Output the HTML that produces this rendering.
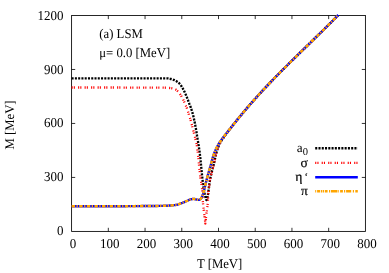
<!DOCTYPE html>
<html><head><meta charset="utf-8"><style>
html,body{margin:0;padding:0;background:#fff;}
svg{display:block;will-change:transform;text-rendering:geometricPrecision;font-family:"Liberation Serif",serif;font-size:12.75px;fill:#000;}
</style></head><body>
<svg width="389" height="273" viewBox="0 0 389 273">
<rect width="389" height="273" fill="#fff"/>
<g fill="none">
<rect x="71.6" y="15.5" width="293.80" height="215.90" stroke="#000" stroke-width="0.85"/>
<path d="M108.32 231.4 v-3.6 M108.32 15.5 v3.6 M145.05 231.4 v-3.6 M145.05 15.5 v3.6 M181.77 231.4 v-3.6 M181.77 15.5 v3.6 M218.50 231.4 v-3.6 M218.50 15.5 v3.6 M255.22 231.4 v-3.6 M255.22 15.5 v3.6 M291.95 231.4 v-3.6 M291.95 15.5 v3.6 M328.67 231.4 v-3.6 M328.67 15.5 v3.6 M71.6 177.43 h3.6 M365.4 177.43 h-3.6 M71.6 123.45 h3.6 M365.4 123.45 h-3.6 M71.6 69.47 h3.6 M365.4 69.47 h-3.6" stroke="#000" stroke-width="0.8"/>
</g>
<g fill="none" stroke-linejoin="round">
<polyline points="71.60,78.40 72.53,78.40 73.46,78.40 74.39,78.40 75.32,78.40 76.24,78.40 77.17,78.40 78.10,78.40 79.03,78.40 79.96,78.40 80.89,78.40 81.82,78.40 82.75,78.40 83.67,78.40 84.60,78.40 85.53,78.40 86.46,78.40 87.39,78.40 88.32,78.40 89.25,78.40 90.18,78.40 91.10,78.40 92.03,78.40 92.96,78.40 93.89,78.40 94.82,78.40 95.75,78.40 96.68,78.40 97.61,78.40 98.53,78.40 99.46,78.40 100.39,78.40 101.32,78.40 102.25,78.40 103.18,78.40 104.11,78.40 105.04,78.40 105.96,78.40 106.89,78.40 107.82,78.40 108.75,78.40 109.68,78.40 110.61,78.40 111.54,78.40 112.47,78.40 113.39,78.40 114.32,78.40 115.25,78.40 116.18,78.40 117.11,78.40 118.04,78.40 118.97,78.40 119.90,78.40 120.82,78.40 121.75,78.40 122.68,78.40 123.61,78.40 124.54,78.40 125.47,78.40 126.40,78.40 127.33,78.40 128.25,78.40 129.18,78.40 130.11,78.40 131.04,78.40 131.97,78.40 132.90,78.40 133.83,78.40 134.76,78.40 135.68,78.40 136.61,78.40 137.54,78.40 138.47,78.40 139.40,78.40 140.33,78.40 141.26,78.40 142.19,78.40 143.11,78.40 144.04,78.40 144.97,78.40 145.90,78.40 146.83,78.40 147.76,78.40 148.69,78.40 149.62,78.40 150.54,78.40 151.47,78.40 152.40,78.40 153.33,78.40 154.26,78.40 155.19,78.40 156.12,78.40 157.05,78.40 157.97,78.40 158.90,78.40 159.83,78.40 160.76,78.40 161.69,78.40 162.62,78.40 163.56,78.40 164.49,78.40 165.41,78.40 166.34,78.40 167.26,78.40 168.19,78.45 169.11,78.58 170.03,78.78 170.94,79.00 171.83,79.23 172.72,79.50 173.60,79.82 174.47,80.18 175.31,80.58 176.12,81.01 176.91,81.48 177.69,82.02 178.43,82.61 179.14,83.23 179.78,83.88 180.36,84.57 180.91,85.31 181.42,86.10 181.90,86.91 182.37,87.73 182.83,88.53 183.27,89.35 183.70,90.18 184.11,91.01 184.50,91.85 184.90,92.69 185.28,93.54 185.66,94.39 186.04,95.24 186.40,96.09 186.76,96.95 187.10,97.81 187.44,98.68 187.77,99.54 188.09,100.42 188.41,101.29 188.73,102.16 189.05,103.03 189.38,103.90 189.73,104.76 190.08,105.62 190.43,106.49 190.75,107.36 191.05,108.23 191.34,109.11 191.62,110.00 191.90,110.89 192.16,111.78 192.42,112.67 192.67,113.57 192.91,114.47 193.14,115.37 193.37,116.27 193.58,117.17 193.79,118.07 194.00,118.98 194.20,119.88 194.39,120.79 194.58,121.70 194.76,122.61 194.94,123.53 195.12,124.44 195.29,125.35 195.46,126.27 195.63,127.18 195.80,128.09 195.96,129.01 196.11,129.92 196.26,130.84 196.41,131.76 196.56,132.67 196.70,133.59 196.84,134.51 196.99,135.43 197.13,136.34 197.28,137.26 197.43,138.18 197.58,139.09 197.73,140.01 197.89,140.93 198.04,141.84 198.19,142.76 198.34,143.68 198.49,144.59 198.64,145.51 198.78,146.43 198.92,147.34 199.06,148.26 199.20,149.18 199.33,150.10 199.46,151.02 199.59,151.94 199.71,152.86 199.82,153.78 199.93,154.70 200.04,155.63 200.15,156.55 200.25,157.47 200.35,158.39 200.45,159.32 200.55,160.24 200.65,161.17 200.74,162.09 200.83,163.01 200.92,163.94 201.02,164.86 201.11,165.79 201.20,166.71 201.29,167.64 201.38,168.56 201.47,169.49 201.56,170.41 201.65,171.33 201.74,172.26 201.83,173.18 201.93,174.11 202.02,175.03 202.12,175.95 202.22,176.88 202.32,177.80 202.43,178.72 202.53,179.65 202.63,180.57 202.73,181.50 202.84,182.42 202.95,183.34 203.06,184.26 203.18,185.18 203.31,186.10 203.45,187.02 203.59,187.94 203.74,188.86 203.89,189.78 204.05,190.70 204.21,191.62 204.39,192.54 204.57,193.45 204.77,194.36 204.98,195.27 205.20,196.17 205.43,197.06 205.68,197.94 206.00,199.00 206.39,199.97 206.71,200.12 207.00,199.35 207.26,198.19 207.47,197.19 207.65,196.28 207.81,195.37 207.96,194.45 208.10,193.53 208.24,192.61 208.38,191.69 208.50,190.77 208.63,189.85 208.75,188.93 208.86,188.01 208.98,187.09 209.11,186.17 209.24,185.25 209.37,184.33 209.49,183.41 209.63,182.49 209.76,181.57 209.90,180.65 210.05,179.73 210.21,178.82 210.39,177.91 210.58,177.00 210.77,176.10 210.98,175.19 211.20,174.29 211.42,173.39 211.65,172.49 211.89,171.59 212.13,170.69 212.37,169.79 212.60,168.89 212.84,167.99 213.08,167.09 213.31,166.19 213.53,165.29 213.75,164.38 213.96,163.48 214.16,162.57 214.37,161.66 214.57,160.75 214.76,159.84 214.96,158.93 215.16,158.02 215.36,157.11 215.57,156.20 215.78,155.30 215.99,154.39 216.22,153.49 216.45,152.60 216.70,151.71 216.95,150.82 217.22,149.94 217.51,149.06 217.81,148.18 218.14,147.30 218.48,146.43 218.84,145.57 219.22,144.72 219.61,143.88 220.02,143.06 220.47,142.26 220.95,141.47 221.45,140.68 221.97,139.91 222.50,139.14 223.04,138.38 223.58,137.62 224.12,136.86 224.65,136.10 225.19,135.34 225.73,134.59 226.28,133.84 226.84,133.09 227.40,132.35 227.96,131.61 228.52,130.87 229.08,130.13 229.65,129.39 230.21,128.65 230.78,127.92 231.35,127.19 231.92,126.45 232.49,125.72 233.07,124.99 233.65,124.27 234.23,123.54 234.81,122.81 235.39,122.09 235.97,121.37 236.55,120.64 237.14,119.92 237.72,119.20 238.31,118.48 238.89,117.76 239.48,117.04 240.07,116.32 240.67,115.61 241.26,114.89 241.85,114.18 242.45,113.46 243.04,112.75 243.64,112.04 244.24,111.33 244.84,110.62 245.44,109.91 246.04,109.21 246.65,108.50 247.25,107.80 247.86,107.09 248.46,106.39 249.07,105.69 249.68,104.99 250.29,104.29 250.90,103.59 251.52,102.89 252.13,102.19 252.74,101.50 253.36,100.80 253.98,100.11 254.60,99.41 255.21,98.72 255.84,98.03 256.46,97.34 257.08,96.65 257.70,95.96 258.33,95.28 258.95,94.59 259.58,93.90 260.21,93.22 260.84,92.54 261.47,91.85 262.10,91.17 262.73,90.49 263.36,89.81 263.99,89.13 264.63,88.45 265.26,87.77 265.90,87.10 266.54,86.42 267.17,85.75 267.81,85.07 268.45,84.40 269.09,83.73 269.74,83.06 270.38,82.39 271.02,81.71 271.66,81.05 272.31,80.38 272.95,79.71 273.60,79.04 274.25,78.38 274.90,77.71 275.54,77.05 276.19,76.38 276.84,75.72 277.49,75.05 278.15,74.39 278.80,73.73 279.45,73.07 280.10,72.41 280.76,71.75 281.41,71.09 282.07,70.43 282.72,69.78 283.38,69.12 284.04,68.46 284.69,67.81 285.35,67.15 286.01,66.49 286.67,65.84 287.33,65.19 287.99,64.53 288.65,63.88 289.31,63.23 289.97,62.57 290.63,61.92 291.29,61.27 291.95,60.62 292.62,59.97 293.28,59.32 293.94,58.67 294.61,58.02 295.27,57.37 295.93,56.72 296.60,56.07 297.26,55.42 297.93,54.77 298.59,54.12 299.26,53.48 299.92,52.83 300.59,52.18 301.26,51.53 301.92,50.89 302.59,50.24 303.25,49.59 303.92,48.94 304.59,48.30 305.25,47.65 305.92,47.00 306.59,46.36 307.25,45.71 307.92,45.06 308.59,44.42 309.25,43.77 309.92,43.12 310.58,42.48 311.25,41.83 311.92,41.18 312.58,40.53 313.25,39.89 313.91,39.24 314.58,38.59 315.25,37.94 315.91,37.29 316.58,36.65 317.24,36.00 317.91,35.35 318.57,34.70 319.23,34.05 319.90,33.40 320.56,32.75 321.22,32.10 321.89,31.45 322.55,30.80 323.21,30.15 323.87,29.50 324.53,28.84 325.19,28.19 325.85,27.54 326.51,26.88 327.17,26.23 327.83,25.58 328.49,24.92 329.15,24.26 329.81,23.61 330.46,22.95 331.12,22.30 331.78,21.64 332.43,20.98 333.09,20.32 333.74,19.66 334.39,19.00 335.05,18.34 335.70,17.68 336.35,17.02 337.00,16.35 337.65,15.69 338.30,15.03" stroke="#000" stroke-width="2.35" stroke-dasharray="2.05 1.22"/>
<polyline points="71.60,87.50 72.60,87.50 73.61,87.50 74.61,87.50 75.61,87.50 76.61,87.50 77.62,87.50 78.62,87.50 79.62,87.50 80.63,87.50 81.63,87.50 82.63,87.50 83.63,87.50 84.64,87.50 85.64,87.50 86.64,87.50 87.64,87.50 88.65,87.50 89.65,87.50 90.65,87.50 91.65,87.50 92.66,87.50 93.66,87.50 94.66,87.50 95.66,87.50 96.67,87.50 97.67,87.51 98.67,87.51 99.67,87.51 100.68,87.51 101.68,87.51 102.68,87.51 103.68,87.51 104.69,87.51 105.69,87.51 106.69,87.51 107.69,87.51 108.70,87.51 109.70,87.51 110.70,87.51 111.70,87.51 112.71,87.51 113.71,87.52 114.71,87.52 115.71,87.52 116.72,87.52 117.72,87.52 118.72,87.52 119.72,87.52 120.72,87.52 121.73,87.52 122.73,87.52 123.73,87.53 124.73,87.53 125.74,87.53 126.74,87.53 127.74,87.53 128.74,87.53 129.74,87.53 130.75,87.54 131.75,87.54 132.75,87.54 133.75,87.54 134.75,87.54 135.76,87.54 136.76,87.55 137.76,87.55 138.76,87.55 139.77,87.55 140.77,87.55 141.77,87.56 142.77,87.56 143.77,87.56 144.78,87.56 145.78,87.56 146.78,87.57 147.78,87.57 148.78,87.57 149.79,87.57 150.79,87.58 151.79,87.58 152.79,87.58 153.79,87.58 154.80,87.59 155.80,87.59 156.80,87.59 157.80,87.59 158.80,87.60 159.81,87.60 160.81,87.61 161.81,87.62 162.82,87.64 163.82,87.67 164.83,87.70 165.83,87.74 166.83,87.79 167.83,87.84 168.82,87.90 169.83,87.99 170.86,88.11 171.88,88.28 172.88,88.49 173.84,88.74 174.73,89.01 175.57,89.41 176.39,89.99 177.17,90.68 177.90,91.45 178.59,92.23 179.23,92.98 179.83,93.76 180.40,94.58 180.95,95.44 181.46,96.31 181.96,97.20 182.43,98.09 182.89,98.98 183.33,99.88 183.74,100.79 184.14,101.71 184.53,102.63 184.92,103.56 185.30,104.49 185.69,105.42 186.09,106.34 186.49,107.26 186.87,108.19 187.22,109.12 187.54,110.07 187.84,111.03 188.13,111.99 188.42,112.95 188.71,113.91 189.00,114.87 189.30,115.82 189.59,116.78 189.89,117.74 190.18,118.70 190.47,119.66 190.75,120.62 191.03,121.59 191.30,122.55 191.56,123.52 191.81,124.49 192.05,125.46 192.28,126.44 192.51,127.41 192.74,128.39 192.97,129.36 193.21,130.34 193.46,131.31 193.71,132.28 193.97,133.25 194.23,134.22 194.49,135.18 194.74,136.15 194.99,137.13 195.22,138.10 195.46,139.07 195.69,140.05 195.92,141.03 196.15,142.00 196.37,142.98 196.58,143.97 196.77,144.95 196.94,145.93 197.09,146.92 197.23,147.91 197.35,148.91 197.47,149.91 197.59,150.90 197.71,151.90 197.82,152.89 197.93,153.89 198.04,154.89 198.14,155.88 198.24,156.88 198.34,157.88 198.44,158.88 198.54,159.88 198.63,160.88 198.73,161.87 198.82,162.87 198.92,163.87 199.01,164.87 199.11,165.87 199.21,166.87 199.30,167.86 199.40,168.86 199.51,169.86 199.61,170.86 199.72,171.85 199.83,172.85 199.94,173.84 200.06,174.84 200.18,175.83 200.31,176.82 200.44,177.82 200.57,178.81 200.72,179.80 200.90,180.79 201.09,181.77 201.27,182.76 201.42,183.75 201.56,184.74 201.70,185.73 201.83,186.73 201.94,187.72 202.05,188.72 202.14,189.72 202.21,190.72 202.28,191.72 202.35,192.72 202.41,193.72 202.46,194.72 202.52,195.72 202.57,196.72 202.63,197.72 202.68,198.72 202.75,199.72 202.81,200.72 202.89,201.72 202.97,202.72 203.06,203.72 203.15,204.72 203.26,205.72 203.36,206.71 203.47,207.71 203.58,208.71 203.69,209.70 203.81,210.70 203.93,211.69 204.05,212.69 204.17,213.68 204.30,214.68 204.42,215.67 204.54,216.67 204.66,217.66 204.78,218.66 204.91,219.65 205.03,220.65 205.16,221.71 205.29,222.97 205.41,223.49 205.52,222.80 205.62,221.53 205.72,220.38 205.82,219.38 205.92,218.38 206.01,217.39 206.11,216.39 206.22,215.39 206.34,214.40 206.47,213.40 206.62,212.41 206.77,211.42 206.93,210.43 207.08,209.44 207.21,208.45 207.33,207.45 207.43,206.46 207.53,205.46 207.63,204.46 207.72,203.46 207.80,202.46 207.87,201.46 207.94,200.46 208.00,199.46 208.05,198.46 208.09,197.46 208.12,196.46 208.16,195.45 208.19,194.45 208.23,193.45 208.28,192.45 208.36,191.45 208.46,190.46 208.59,189.46 208.74,188.47 208.90,187.48 209.05,186.49 209.20,185.50 209.34,184.50 209.48,183.51 209.62,182.52 209.77,181.52 209.92,180.53 210.09,179.54 210.26,178.56 210.46,177.58 210.66,176.60 210.88,175.62 211.11,174.65 211.35,173.68 211.60,172.70 211.85,171.73 212.11,170.76 212.36,169.79 212.62,168.82 212.88,167.85 213.13,166.88 213.38,165.91 213.62,164.93 213.85,163.96 214.07,162.98 214.29,162.00 214.51,161.02 214.72,160.03 214.93,159.05 215.15,158.07 215.37,157.09 215.59,156.11 215.82,155.13 216.05,154.16 216.30,153.19 216.55,152.22 216.82,151.26 217.11,150.31 217.41,149.36 217.73,148.41 218.08,147.46 218.44,146.52 218.83,145.59 219.24,144.67 219.67,143.77 220.12,142.89 220.61,142.03 221.13,141.17 221.68,140.33 222.25,139.50 222.83,138.67 223.42,137.85 224.00,137.03 224.57,136.21 225.15,135.39 225.74,134.58 226.33,133.77 226.93,132.97 227.53,132.17 228.14,131.37 228.75,130.57 229.36,129.77 229.97,128.98 230.58,128.18 231.19,127.39 231.81,126.60 232.43,125.81 233.05,125.02 233.67,124.24 234.29,123.46 234.92,122.67 235.55,121.89 236.18,121.11 236.80,120.33 237.44,119.55 238.07,118.77 238.70,118.00 239.34,117.22 239.97,116.45 240.61,115.67 241.25,114.90 241.89,114.13 242.53,113.36 243.18,112.59 243.82,111.82 244.47,111.06 245.12,110.29 245.77,109.53 246.42,108.77 247.07,108.01 247.72,107.25 248.38,106.49 249.03,105.73 249.69,104.97 250.35,104.22 251.01,103.46 251.67,102.71 252.34,101.96 253.00,101.21 253.66,100.46 254.33,99.71 255.00,98.96 255.67,98.22 256.34,97.47 257.01,96.73 257.68,95.98 258.36,95.24 259.03,94.50 259.71,93.76 260.39,93.02 261.07,92.29 261.75,91.55 262.43,90.81 263.11,90.08 263.79,89.35 264.48,88.61 265.16,87.88 265.85,87.15 266.54,86.42 267.22,85.69 267.91,84.97 268.60,84.24 269.30,83.52 269.99,82.79 270.68,82.07 271.38,81.34 272.07,80.62 272.77,79.90 273.47,79.18 274.16,78.46 274.86,77.74 275.56,77.03 276.26,76.31 276.97,75.59 277.67,74.88 278.37,74.16 279.07,73.45 279.78,72.74 280.48,72.03 281.19,71.31 281.90,70.60 282.60,69.89 283.31,69.18 284.02,68.47 284.73,67.77 285.44,67.06 286.15,66.35 286.86,65.65 287.57,64.94 288.29,64.24 289.00,63.53 289.71,62.83 290.43,62.12 291.14,61.42 291.85,60.72 292.57,60.01 293.29,59.31 294.00,58.61 294.72,57.91 295.43,57.21 296.15,56.51 296.87,55.81 297.59,55.11 298.30,54.41 299.02,53.71 299.74,53.01 300.46,52.31 301.18,51.61 301.89,50.91 302.61,50.21 303.33,49.51 304.05,48.82 304.77,48.12 305.49,47.42 306.21,46.72 306.93,46.02 307.65,45.33 308.37,44.63 309.09,43.93 309.81,43.23 310.52,42.53 311.24,41.84 311.96,41.14 312.68,40.44 313.40,39.74 314.12,39.04 314.84,38.34 315.55,37.64 316.27,36.94 316.99,36.24 317.71,35.54 318.42,34.84 319.14,34.14 319.86,33.44 320.57,32.74 321.29,32.04 322.00,31.33 322.72,30.63 323.43,29.93 324.15,29.22 324.86,28.52 325.57,27.82 326.29,27.11 327.00,26.40 327.71,25.70 328.42,24.99 329.13,24.28 329.84,23.58 330.55,22.87 331.26,22.16 331.96,21.45 332.67,20.74 333.38,20.03 334.08,19.31 334.79,18.60 335.49,17.89 336.19,17.17 336.90,16.46 337.60,15.74 338.30,15.03" stroke="#f00" stroke-width="2.3" stroke-dasharray="1.1 1.1 1.1 3.2"/>
<polyline points="71.60,206.30 72.33,206.30 73.06,206.30 73.79,206.30 74.52,206.30 75.25,206.30 75.98,206.30 76.72,206.30 77.45,206.30 78.18,206.30 78.91,206.30 79.64,206.30 80.37,206.30 81.10,206.29 81.83,206.29 82.56,206.29 83.29,206.29 84.02,206.29 84.75,206.29 85.49,206.29 86.22,206.29 86.95,206.29 87.68,206.29 88.41,206.28 89.14,206.28 89.87,206.28 90.60,206.28 91.33,206.28 92.06,206.28 92.79,206.28 93.52,206.27 94.25,206.27 94.99,206.27 95.72,206.27 96.45,206.27 97.18,206.27 97.91,206.26 98.64,206.26 99.37,206.26 100.10,206.26 100.83,206.26 101.56,206.26 102.29,206.25 103.02,206.25 103.75,206.25 104.49,206.25 105.22,206.25 105.95,206.24 106.68,206.24 107.41,206.24 108.14,206.24 108.87,206.24 109.60,206.23 110.33,206.23 111.06,206.23 111.79,206.23 112.52,206.22 113.26,206.22 113.99,206.22 114.72,206.22 115.45,206.21 116.18,206.21 116.91,206.21 117.64,206.21 118.37,206.21 119.10,206.20 119.83,206.20 120.56,206.20 121.29,206.20 122.02,206.19 122.76,206.19 123.49,206.19 124.22,206.18 124.95,206.18 125.68,206.18 126.41,206.17 127.14,206.17 127.87,206.17 128.60,206.16 129.33,206.16 130.06,206.15 130.79,206.15 131.52,206.15 132.26,206.14 132.99,206.14 133.72,206.13 134.45,206.13 135.18,206.12 135.91,206.12 136.64,206.11 137.37,206.11 138.10,206.10 138.83,206.10 139.56,206.09 140.29,206.08 141.02,206.08 141.76,206.07 142.49,206.07 143.22,206.06 143.95,206.05 144.68,206.05 145.41,206.04 146.14,206.04 146.87,206.03 147.60,206.02 148.33,206.02 149.06,206.01 149.79,206.00 150.52,206.00 151.26,205.99 151.99,205.98 152.72,205.97 153.45,205.97 154.18,205.96 154.91,205.95 155.64,205.94 156.37,205.93 157.10,205.93 157.83,205.92 158.57,205.91 159.30,205.89 160.03,205.88 160.76,205.87 161.49,205.86 162.22,205.84 162.95,205.83 163.68,205.81 164.41,205.79 165.14,205.77 165.87,205.75 166.61,205.72 167.34,205.68 168.08,205.65 168.81,205.60 169.54,205.56 170.28,205.51 171.01,205.45 171.74,205.39 172.46,205.33 173.19,205.26 173.91,205.18 174.63,205.10 175.35,205.02 176.06,204.91 176.76,204.76 177.47,204.57 178.17,204.35 178.87,204.11 179.56,203.86 180.26,203.60 180.95,203.35 181.63,203.11 182.32,202.85 182.99,202.58 183.67,202.31 184.35,202.03 185.02,201.74 185.69,201.46 186.37,201.18 187.05,200.90 187.72,200.60 188.39,200.28 189.06,199.97 189.74,199.69 190.42,199.45 191.12,199.28 191.83,199.13 192.56,199.00 193.29,198.92 194.01,198.91 194.72,199.03 195.43,199.24 196.14,199.47 196.85,199.63 197.59,199.77 198.32,199.87 199.01,199.88 199.68,199.61 200.32,199.15 200.87,198.63 201.32,198.10 201.73,197.48 202.08,196.80 202.37,196.14 202.62,195.47 202.84,194.78 203.05,194.08 203.24,193.37 203.42,192.65 203.59,191.93 203.77,191.22 203.95,190.50 204.13,189.80 204.32,189.09 204.50,188.38 204.67,187.67 204.85,186.96 205.02,186.25 205.20,185.54 205.37,184.83 205.54,184.12 205.72,183.41 205.90,182.71 206.08,182.00 206.26,181.29 206.43,180.58 206.61,179.87 206.79,179.16 206.98,178.46 207.17,177.75 207.36,177.04 207.55,176.34 207.75,175.64 207.94,174.93 208.14,174.23 208.34,173.53 208.54,172.82 208.75,172.12 208.95,171.42 209.15,170.72 209.36,170.02 209.56,169.31 209.76,168.61 209.97,167.91 210.17,167.21 210.37,166.50 210.57,165.80 210.77,165.10 210.97,164.39 211.16,163.69 211.35,162.98 211.53,162.27 211.72,161.56 211.90,160.85 212.09,160.14 212.27,159.43 212.46,158.73 212.66,158.02 212.86,157.32 213.07,156.62 213.29,155.93 213.52,155.24 213.76,154.56 214.00,153.87 214.26,153.19 214.53,152.51 214.81,151.83 215.09,151.15 215.38,150.48 215.68,149.80 215.99,149.13 216.31,148.47 216.63,147.81 216.95,147.15 217.29,146.50 217.63,145.86 217.97,145.22 218.32,144.59 218.68,143.96 219.06,143.34 219.45,142.72 219.85,142.11 220.26,141.51 220.68,140.91 221.11,140.31 221.54,139.71 221.97,139.12 222.41,138.53 222.85,137.94 223.29,137.36 223.72,136.77 224.16,136.19 224.60,135.61 225.05,135.03 225.51,134.46 225.96,133.89 226.42,133.32 226.89,132.75 227.35,132.19 227.82,131.62 228.28,131.06 228.74,130.49 229.20,129.92 229.66,129.35 230.12,128.78 230.57,128.21 231.02,127.64 231.48,127.06 231.93,126.49 232.38,125.91 232.83,125.34 233.28,124.76 233.73,124.19 234.18,123.61 234.64,123.04 235.09,122.47 235.55,121.89 236.00,121.32 236.46,120.75 236.92,120.19 237.38,119.62 237.84,119.05 238.30,118.48 238.76,117.92 239.23,117.35 239.69,116.79 240.16,116.22 240.62,115.66 241.09,115.10 241.55,114.54 242.02,113.97 242.49,113.41 242.96,112.85 243.43,112.29 243.90,111.73 244.37,111.18 244.84,110.62 245.32,110.06 245.79,109.50 246.26,108.95 246.74,108.39 247.22,107.84 247.69,107.28 248.17,106.73 248.65,106.18 249.13,105.63 249.60,105.07 250.08,104.52 250.57,103.97 251.05,103.42 251.53,102.87 252.01,102.33 252.50,101.78 252.98,101.23 253.47,100.68 253.95,100.14 254.44,99.59 254.92,99.05 255.41,98.50 255.90,97.96 256.39,97.42 256.88,96.87 257.37,96.33 257.86,95.79 258.35,95.25 258.84,94.71 259.34,94.17 259.83,93.63 260.32,93.09 260.82,92.55 261.31,92.02 261.81,91.48 262.31,90.94 262.80,90.41 263.30,89.87 263.80,89.34 264.30,88.80 264.80,88.27 265.30,87.74 265.80,87.21 266.30,86.67 266.80,86.14 267.30,85.61 267.81,85.08 268.31,84.55 268.81,84.02 269.32,83.49 269.82,82.96 270.33,82.44 270.83,81.91 271.34,81.38 271.85,80.86 272.35,80.33 272.86,79.80 273.37,79.28 273.88,78.75 274.39,78.23 274.90,77.71 275.41,77.18 275.92,76.66 276.43,76.14 276.94,75.62 277.45,75.10 277.97,74.57 278.48,74.05 278.99,73.53 279.51,73.01 280.02,72.49 280.53,71.97 281.05,71.46 281.56,70.94 282.08,70.42 282.60,69.90 283.11,69.38 283.63,68.87 284.15,68.35 284.66,67.83 285.18,67.32 285.70,66.80 286.22,66.29 286.73,65.77 287.25,65.26 287.77,64.74 288.29,64.23 288.81,63.72 289.33,63.20 289.85,62.69 290.37,62.18 290.89,61.66 291.41,61.15 291.93,60.64 292.46,60.13 292.98,59.61 293.50,59.10 294.02,58.59 294.54,58.08 295.07,57.57 295.59,57.06 296.11,56.55 296.63,56.04 297.16,55.53 297.68,55.01 298.20,54.50 298.73,53.99 299.25,53.49 299.77,52.98 300.30,52.47 300.82,51.96 301.35,51.45 301.87,50.94 302.39,50.43 302.92,49.92 303.44,49.41 303.97,48.90 304.49,48.39 305.01,47.88 305.54,47.37 306.06,46.86 306.59,46.36 307.11,45.85 307.64,45.34 308.16,44.83 308.69,44.32 309.21,43.81 309.73,43.30 310.26,42.79 310.78,42.28 311.31,41.77 311.83,41.26 312.36,40.76 312.88,40.25 313.40,39.74 313.93,39.23 314.45,38.72 314.97,38.21 315.50,37.70 316.02,37.19 316.54,36.68 317.07,36.17 317.59,35.66 318.11,35.15 318.64,34.64 319.16,34.12 319.68,33.61 320.20,33.10 320.72,32.59 321.25,32.08 321.77,31.57 322.29,31.05 322.81,30.54 323.33,30.03 323.85,29.52 324.37,29.00 324.89,28.49 325.41,27.98 325.93,27.46 326.45,26.95 326.97,26.43 327.49,25.92 328.01,25.40 328.52,24.89 329.04,24.37 329.56,23.86 330.08,23.34 330.59,22.82 331.11,22.31 331.63,21.79 332.14,21.27 332.66,20.75 333.17,20.23 333.69,19.71 334.20,19.20 334.71,18.68 335.23,18.16 335.74,17.63 336.25,17.11 336.77,16.59 337.28,16.07 337.79,15.55 338.30,15.03" stroke="#00f" stroke-width="2.4"/>
<polyline points="71.60,206.30 72.33,206.30 73.06,206.30 73.79,206.30 74.52,206.30 75.25,206.30 75.98,206.30 76.72,206.30 77.45,206.30 78.18,206.30 78.91,206.30 79.64,206.30 80.37,206.30 81.10,206.29 81.83,206.29 82.56,206.29 83.29,206.29 84.02,206.29 84.75,206.29 85.49,206.29 86.22,206.29 86.95,206.29 87.68,206.29 88.41,206.28 89.14,206.28 89.87,206.28 90.60,206.28 91.33,206.28 92.06,206.28 92.79,206.28 93.52,206.27 94.25,206.27 94.99,206.27 95.72,206.27 96.45,206.27 97.18,206.27 97.91,206.26 98.64,206.26 99.37,206.26 100.10,206.26 100.83,206.26 101.56,206.26 102.29,206.25 103.02,206.25 103.75,206.25 104.49,206.25 105.22,206.25 105.95,206.24 106.68,206.24 107.41,206.24 108.14,206.24 108.87,206.24 109.60,206.23 110.33,206.23 111.06,206.23 111.79,206.23 112.52,206.22 113.26,206.22 113.99,206.22 114.72,206.22 115.45,206.21 116.18,206.21 116.91,206.21 117.64,206.21 118.37,206.21 119.10,206.20 119.83,206.20 120.56,206.20 121.29,206.20 122.02,206.19 122.76,206.19 123.49,206.19 124.22,206.18 124.95,206.18 125.68,206.18 126.41,206.17 127.14,206.17 127.87,206.17 128.60,206.16 129.33,206.16 130.06,206.15 130.79,206.15 131.52,206.15 132.26,206.14 132.99,206.14 133.72,206.13 134.45,206.13 135.18,206.12 135.91,206.12 136.64,206.11 137.37,206.11 138.10,206.10 138.83,206.10 139.56,206.09 140.29,206.08 141.02,206.08 141.76,206.07 142.49,206.07 143.22,206.06 143.95,206.05 144.68,206.05 145.41,206.04 146.14,206.04 146.87,206.03 147.60,206.02 148.33,206.02 149.06,206.01 149.79,206.00 150.52,206.00 151.26,205.99 151.99,205.98 152.72,205.97 153.45,205.97 154.18,205.96 154.91,205.95 155.64,205.94 156.37,205.93 157.10,205.93 157.83,205.92 158.57,205.91 159.30,205.89 160.03,205.88 160.76,205.87 161.49,205.86 162.22,205.84 162.95,205.83 163.68,205.81 164.41,205.79 165.14,205.77 165.87,205.75 166.61,205.72 167.34,205.68 168.08,205.65 168.81,205.60 169.54,205.56 170.28,205.51 171.01,205.45 171.74,205.39 172.46,205.33 173.19,205.26 173.91,205.18 174.63,205.10 175.35,205.02 176.06,204.91 176.76,204.76 177.47,204.57 178.17,204.35 178.87,204.11 179.56,203.86 180.26,203.60 180.95,203.35 181.63,203.11 182.32,202.85 182.99,202.58 183.67,202.31 184.35,202.03 185.02,201.74 185.69,201.46 186.37,201.18 187.05,200.90 187.72,200.60 188.39,200.28 189.06,199.97 189.74,199.69 190.42,199.45 191.12,199.28 191.83,199.13 192.56,199.00 193.29,198.92 194.01,198.91 194.72,199.03 195.43,199.24 196.14,199.47 196.85,199.63 197.59,199.77 198.32,199.87 199.01,199.88 199.68,199.61 200.32,199.15 200.87,198.63 201.32,198.10 201.73,197.48 202.08,196.80 202.37,196.14 202.62,195.47 202.84,194.78 203.05,194.08 203.24,193.37 203.42,192.65 203.59,191.93 203.77,191.22 203.95,190.50 204.13,189.80 204.32,189.09 204.50,188.38 204.67,187.67 204.85,186.96 205.02,186.25 205.20,185.54 205.37,184.83 205.54,184.12 205.72,183.41 205.90,182.71 206.08,182.00 206.26,181.29 206.43,180.58 206.61,179.87 206.79,179.16 206.98,178.46 207.17,177.75 207.36,177.04 207.55,176.34 207.75,175.64 207.94,174.93 208.14,174.23 208.34,173.53 208.54,172.82 208.75,172.12 208.95,171.42 209.15,170.72 209.36,170.02 209.56,169.31 209.76,168.61 209.97,167.91 210.17,167.21 210.37,166.50 210.57,165.80 210.77,165.10 210.97,164.39 211.16,163.69 211.35,162.98 211.53,162.27 211.72,161.56 211.90,160.85 212.09,160.14 212.27,159.43 212.46,158.73 212.66,158.02 212.86,157.32 213.07,156.62 213.29,155.93 213.52,155.24 213.76,154.56 214.00,153.87 214.26,153.19 214.53,152.51 214.81,151.83 215.09,151.15 215.38,150.48 215.68,149.80 215.99,149.13 216.31,148.47 216.63,147.81 216.95,147.15 217.29,146.50 217.63,145.86 217.97,145.22 218.32,144.59 218.68,143.96 219.06,143.34 219.45,142.72 219.85,142.11 220.26,141.51 220.68,140.91 221.11,140.31 221.54,139.71 221.97,139.12 222.41,138.53 222.85,137.94 223.29,137.36 223.72,136.77 224.16,136.19 224.60,135.61 225.05,135.03 225.51,134.46 225.96,133.89 226.42,133.32 226.89,132.75 227.35,132.19 227.82,131.62 228.28,131.06 228.74,130.49 229.20,129.92 229.66,129.35 230.12,128.78 230.57,128.21 231.02,127.64 231.48,127.06 231.93,126.49 232.38,125.91 232.83,125.34 233.28,124.76 233.73,124.19 234.18,123.61 234.64,123.04 235.09,122.47 235.55,121.89 236.00,121.32 236.46,120.75 236.92,120.19 237.38,119.62 237.84,119.05 238.30,118.48 238.76,117.92 239.23,117.35 239.69,116.79 240.16,116.22 240.62,115.66 241.09,115.10 241.55,114.54 242.02,113.97 242.49,113.41 242.96,112.85 243.43,112.29 243.90,111.73 244.37,111.18 244.84,110.62 245.32,110.06 245.79,109.50 246.26,108.95 246.74,108.39 247.22,107.84 247.69,107.28 248.17,106.73 248.65,106.18 249.13,105.63 249.60,105.07 250.08,104.52 250.57,103.97 251.05,103.42 251.53,102.87 252.01,102.33 252.50,101.78 252.98,101.23 253.47,100.68 253.95,100.14 254.44,99.59 254.92,99.05 255.41,98.50 255.90,97.96 256.39,97.42 256.88,96.87 257.37,96.33 257.86,95.79 258.35,95.25 258.84,94.71 259.34,94.17 259.83,93.63 260.32,93.09 260.82,92.55 261.31,92.02 261.81,91.48 262.31,90.94 262.80,90.41 263.30,89.87 263.80,89.34 264.30,88.80 264.80,88.27 265.30,87.74 265.80,87.21 266.30,86.67 266.80,86.14 267.30,85.61 267.81,85.08 268.31,84.55 268.81,84.02 269.32,83.49 269.82,82.96 270.33,82.44 270.83,81.91 271.34,81.38 271.85,80.86 272.35,80.33 272.86,79.80 273.37,79.28 273.88,78.75 274.39,78.23 274.90,77.71 275.41,77.18 275.92,76.66 276.43,76.14 276.94,75.62 277.45,75.10 277.97,74.57 278.48,74.05 278.99,73.53 279.51,73.01 280.02,72.49 280.53,71.97 281.05,71.46 281.56,70.94 282.08,70.42 282.60,69.90 283.11,69.38 283.63,68.87 284.15,68.35 284.66,67.83 285.18,67.32 285.70,66.80 286.22,66.29 286.73,65.77 287.25,65.26 287.77,64.74 288.29,64.23 288.81,63.72 289.33,63.20 289.85,62.69 290.37,62.18 290.89,61.66 291.41,61.15 291.93,60.64 292.46,60.13 292.98,59.61 293.50,59.10 294.02,58.59 294.54,58.08 295.07,57.57 295.59,57.06 296.11,56.55 296.63,56.04 297.16,55.53 297.68,55.01 298.20,54.50 298.73,53.99 299.25,53.49 299.77,52.98 300.30,52.47 300.82,51.96 301.35,51.45 301.87,50.94 302.39,50.43 302.92,49.92 303.44,49.41 303.97,48.90 304.49,48.39 305.01,47.88 305.54,47.37 306.06,46.86 306.59,46.36 307.11,45.85 307.64,45.34 308.16,44.83 308.69,44.32 309.21,43.81 309.73,43.30 310.26,42.79 310.78,42.28 311.31,41.77 311.83,41.26 312.36,40.76 312.88,40.25 313.40,39.74 313.93,39.23 314.45,38.72 314.97,38.21 315.50,37.70 316.02,37.19 316.54,36.68 317.07,36.17 317.59,35.66 318.11,35.15 318.64,34.64 319.16,34.12 319.68,33.61 320.20,33.10 320.72,32.59 321.25,32.08 321.77,31.57 322.29,31.05 322.81,30.54 323.33,30.03 323.85,29.52 324.37,29.00 324.89,28.49 325.41,27.98 325.93,27.46 326.45,26.95 326.97,26.43 327.49,25.92 328.01,25.40 328.52,24.89 329.04,24.37 329.56,23.86 330.08,23.34 330.59,22.82 331.11,22.31 331.63,21.79 332.14,21.27 332.66,20.75 333.17,20.23 333.69,19.71 334.20,19.20 334.71,18.68 335.23,18.16 335.74,17.63 336.25,17.11 336.77,16.59 337.28,16.07 337.79,15.55 338.30,15.03" stroke="#ffa500" stroke-width="2.5" stroke-dasharray="3.5 1.4 1.3 1.4"/>
<path d="M315.2 148.2 H357.8" stroke="#000" stroke-width="2.35" stroke-dasharray="2.05 1.22"/>
<path d="M315.2 162.8 H357.8" stroke="#f00" stroke-width="2.3" stroke-dasharray="1.1 1.1 1.1 3.2"/>
<path d="M315.2 177.2 H357.8" stroke="#00f" stroke-width="2.4"/>
<path d="M315.2 191.3 H357.8" stroke="#ffa500" stroke-width="2.5" stroke-dasharray="1.0 0.9 3.1 0.8 1.2 0.6 1.2 0.8 2.8 1.4 1.2 0.8 6.0 0.5 1.2 1.4 2.8 1.1 1.2 0.9 5.1 1.6 1.2 1.3 2.6 10"/>
</g>
<text transform="translate(73.10,247.80) scale(0.963,1)" font-size="13.5" text-anchor="middle">0</text><text transform="translate(109.82,247.80) scale(0.963,1)" font-size="13.5" text-anchor="middle">100</text><text transform="translate(146.55,247.80) scale(0.963,1)" font-size="13.5" text-anchor="middle">200</text><text transform="translate(183.27,247.80) scale(0.963,1)" font-size="13.5" text-anchor="middle">300</text><text transform="translate(220.00,247.80) scale(0.963,1)" font-size="13.5" text-anchor="middle">400</text><text transform="translate(256.72,247.80) scale(0.963,1)" font-size="13.5" text-anchor="middle">500</text><text transform="translate(293.45,247.80) scale(0.963,1)" font-size="13.5" text-anchor="middle">600</text><text transform="translate(330.17,247.80) scale(0.963,1)" font-size="13.5" text-anchor="middle">700</text><text transform="translate(366.90,247.80) scale(0.963,1)" font-size="13.5" text-anchor="middle">800</text><text transform="translate(63.50,235.10) scale(0.963,1)" font-size="13.5" text-anchor="end">0</text><text transform="translate(63.50,181.29) scale(0.963,1)" font-size="13.5" text-anchor="end">300</text><text transform="translate(63.50,127.47) scale(0.963,1)" font-size="13.5" text-anchor="end">600</text><text transform="translate(63.50,73.66) scale(0.963,1)" font-size="13.5" text-anchor="end">900</text><text transform="translate(63.50,19.85) scale(0.963,1)" font-size="13.5" text-anchor="end">1200</text>
<text transform="translate(99.30,38.00) scale(0.965,1)" font-size="13.2" text-anchor="start">(a) LSM</text>
<text transform="translate(99.30,56.60) scale(0.965,1)" font-size="13.2" text-anchor="start">μ= 0.0 [MeV]</text>
<text transform="translate(219.60,268.00) scale(0.965,1)" font-size="13.2" text-anchor="middle">T [MeV]</text>
<text transform="translate(13.7,125) rotate(-90) scale(0.965,1)" font-size="13.2" text-anchor="middle">M [MeV]</text>
<text transform="translate(307.90,152.00) scale(1,1)" font-size="13.2" text-anchor="end">a<tspan font-size="10.5" dy="3">0</tspan></text>
<text transform="translate(307.90,166.50) scale(1,1)" font-size="13.6" text-anchor="end" stroke="#000" stroke-width="0.2">σ</text>
<text transform="translate(307.90,181.00) scale(1,1)" font-size="13.6" text-anchor="end" stroke="#000" stroke-width="0.2">η<tspan dx="2" dy="-1.5" font-size="10.5">‘</tspan></text>
<text transform="translate(307.90,195.00) scale(1,1)" font-size="13.6" text-anchor="end" stroke="#000" stroke-width="0.2">π</text>
</svg>
</body></html>
